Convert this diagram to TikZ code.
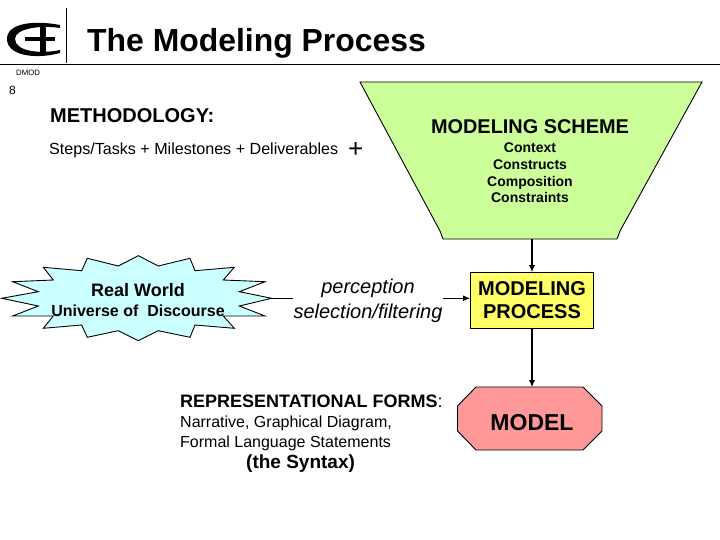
\documentclass[tikz,border=0pt]{standalone}
\usepackage{fontspec}
\setmainfont{Liberation Sans}
\usetikzlibrary{arrows.meta}
\definecolor{fgreen}{RGB}{204,255,153}
\definecolor{fcyan}{RGB}{204,255,255}
\definecolor{fyellow}{RGB}{255,255,102}
\definecolor{fred}{RGB}{255,153,153}
\tikzset{
 conn/.style={draw=black,line width=1.3pt,-{Latex[length=7pt,width=6.5pt]}},
 lab/.style={inner sep=0pt,anchor=base west},
 ctr/.style={inner sep=0pt,anchor=base,align=center},
}
\newcommand{\fs}[1]{\fontsize{#1}{#1}\selectfont}
\begin{document}
\begin{tikzpicture}[x=1pt,y=-1pt]
\useasboundingbox (0,0) rectangle (720,540);
\fill[white] (0,0) rectangle (720,540);
% logo
\fill (60,25) .. controls (34,20) and (7,23) .. (7,39) .. controls (7,55) and (34,60) .. (60,53) -- (60,50) .. controls (42,54) and (15,52) .. (15,39) .. controls (15,28) and (42,25) .. (60,28) -- cycle;
\fill (40,23) rectangle (46,55);
\fill (25,37) rectangle (55,41);
\draw[line width=1pt] (66,8) -- (66,63);
\draw[line width=.9pt] (0,64.5) -- (720,64.5);
\node[lab,font=\bfseries\fs{31.9}] (title) at (87,52) {The Modeling Process};
\node[lab,font=\fs{7.8}] (dmod) at (16,76) {DMOD};
\node[lab,font=\fs{12}] (pg) at (9,94.5) {8};
\node[lab,font=\bfseries\fs{20}] (meth) at (50,123) {METHODOLOGY:};
\node[lab,font=\fs{16.1}] (steps) at (49,155) {Steps/Tasks + Milestones + Deliverables};
\node[lab,font=\fs{26}] (plus) at (348,158) {+};
% funnel
\filldraw[fill=fgreen,draw=black,line width=.9pt]
 (360,82) -- (702,82) -- (620,231) -- (617,239) -- (443,239) -- (440,231) -- cycle;
\coordinate (fb) at (532,239);
\node[ctr,font=\bfseries\fs{19.9}] (ms) at (530,134) {MODELING SCHEME};
\node[ctr,font=\bfseries\fs{14}] (c1) at (530,153) {Context};
\node[ctr,font=\bfseries\fs{14}] (c2) at (530,170) {Constructs};
\node[ctr,font=\bfseries\fs{14}] (c3) at (530,187) {Composition};
\node[ctr,font=\bfseries\fs{14}] (c4) at (530,203) {Constraints};
% star
\filldraw[fill=fcyan,draw=black,line width=.9pt]
 (1.7,298.3) -- (38.3,291.7) -- (12.7,281.7) -- (53.3,280) -- (43.3,267.3) -- (81.7,270.7) -- (87.3,258.3) -- (118.3,266) -- (138.3,255.7) -- (158.3,266) -- (190,258.3) -- (195,270.7) -- (234.3,267.3) -- (223.3,280) -- (265,281.7) -- (239.3,291.7) -- (271.7,298.3) -- (239.3,306) -- (265,316) -- (223.3,316) -- (234.3,328.3) -- (195,325) -- (190,337.3) -- (158.3,330.7) -- (138.3,340.7) -- (118.3,330.7) -- (87.3,337.3) -- (81.7,325) -- (43.3,328.3) -- (53.3,316) -- (12.7,316) -- (38.3,306) -- cycle;
\coordinate (starE) at (271.7,298.3);
\node[ctr,font=\bfseries\fs{18}] (rw) at (138,296) {Real World};
\node[ctr,font=\bfseries\fs{16}] (ud) at (138,316) {Universe of\ \ Discourse};
% label
\node[inner sep=0pt,align=center,font=\itshape\fs{20},anchor=center] (filt) at (368,302) {\strut perception\\[4pt]\strut selection/filtering};
% process
\node[draw=black,fill=fyellow,line width=.9pt,minimum width=123pt,minimum height=56pt,inner sep=0pt,align=center,font=\bfseries\fs{20}] (proc) at (532,300.5) {MODELING\\[3pt]PROCESS};
% model
\filldraw[fill=fred,draw=black,line width=.9pt]
 (476,387) -- (583,387) -- (602,406) -- (602,431) -- (583,450) -- (476,450) -- (457.5,431) -- (457.5,406) -- cycle;
\coordinate (mt) at (532,387);
\node[ctr,font=\bfseries\fs{23}] (model) at (532,430) {MODEL};
% reps
\node[lab,font=\bfseries\fs{18}] (rep) at (180,407) {REPRESENTATIONAL FORMS{\mdseries:}};
\node[lab,font=\fs{16}] (n1) at (180,427) {Narrative, Graphical Diagram,};
\node[lab,font=\fs{16}] (n2) at (180,447) {Formal Language Statements};
\node[lab,font=\bfseries\fs{19}] (n3) at (246,468) {(the Syntax)};
% connectors
\draw[line width=.9pt] (starE) -- (filt.west |- starE);
\draw[-{Latex[length=7pt,width=6pt]},line width=.9pt] (filt.east |- starE) -- (proc.west |- starE);
\draw[conn] (fb) -- (proc.north);
\draw[conn] (proc.south) -- (mt);
\end{tikzpicture}
\end{document}
